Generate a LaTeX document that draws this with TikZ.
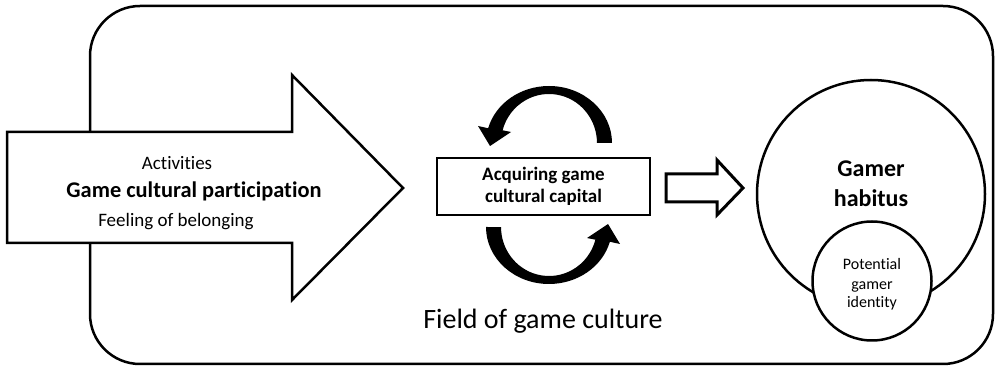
\documentclass[tikz,border=0pt]{standalone}
\usepackage{fontspec}
\setmainfont{Carlito}[Ligatures={NoCommon,NoRare}]
\usetikzlibrary{arrows.meta}
\tikzset{
  outline/.style={line width=2.5pt, line join=miter},
  txt/.style={anchor=base, inner sep=0pt},
}
\newcommand\cycarrow[1]{%
  \fill[#1] (612,224) arc[start angle=0, end angle=165, x radius=63, y radius=57]
    -- (478,241) -- (490,221) -- (511,235) -- (502.6,236.7)
    arc[start angle=165, end angle=0, x radius=48, y radius=49] -- cycle;}
\begin{document}
\begin{tikzpicture}[x=1pt,y=1pt]
\useasboundingbox (0,0) rectangle (997,367);
% field frame
\draw[outline, rounded corners=50pt] (90,3) rectangle (993,361);
% big participation arrow
\draw[outline, fill=white] (7,235) -- (292,235) -- (292,292) -- (403,179)
  -- (292,67) -- (292,124) -- (7,124) -- cycle;
\node[txt, font=\fontsize{19}{23}\selectfont] (act) at (177,197) {Activities};
\node[txt, font=\fontsize{22.4}{27}\selectfont\bfseries] (gcp) at (194,169) {Game cultural participation};
\node[txt, font=\fontsize{19}{23}\selectfont] (feel) at (176,140) {Feeling of belonging};
% capital box
\node[draw, outline, minimum width=213pt, minimum height=57pt, inner sep=0pt,
  align=center, font=\fontsize{19}{22}\selectfont\bfseries] (acq) at (543.5,180.5)
  {Acquiring game\\cultural capital};
% cycle arrows
\cycarrow{}
\cycarrow{rotate around={180:(549,182)}}
% hollow arrow
\draw[line width=3pt, line join=miter, fill=white] (666,193) -- (717,193) -- (717,207)
  -- (743,179) -- (717,152) -- (717,165) -- (666,165) -- cycle;
% habitus circles
\node[draw, circle, outline, minimum size=228pt, inner sep=0pt] (hab) at (871,173) {};
\node[draw, circle, outline, fill=white, minimum size=119pt, inner sep=0pt] (pot) at (872,86) {};
\node[txt, font=\fontsize{24}{29}\selectfont\bfseries] (g1) at (871,190) {Gamer};
\node[txt, font=\fontsize{24}{29}\selectfont\bfseries] (g2) at (871,160) {habitus};
\node[txt, font=\fontsize{16}{19}\selectfont] (p1) at (872,97) {Potential};
\node[txt, font=\fontsize{16}{19}\selectfont] (p2) at (872,77) {gamer};
\node[txt, font=\fontsize{16}{19}\selectfont] (p3) at (872,59) {identity};
% field label
\node[txt, font=\fontsize{28}{34}\selectfont] (field) at (543,38) {Field of game culture};
\end{tikzpicture}
\end{document}
